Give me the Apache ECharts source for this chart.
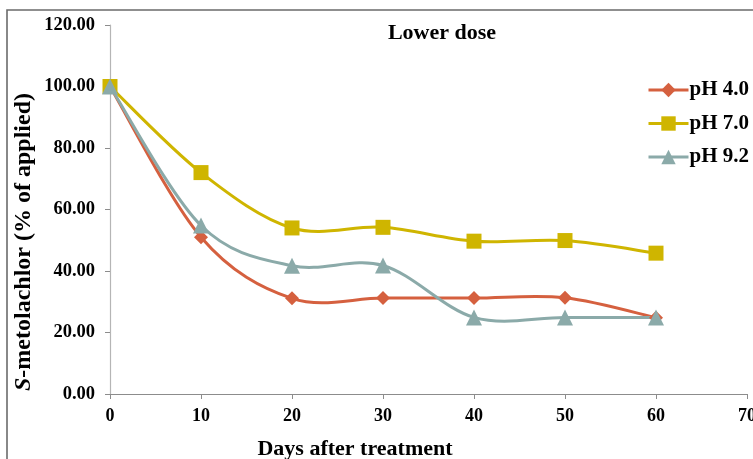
<!DOCTYPE html>
<html>
<head>
<meta charset="utf-8">
<script src="https://cdn.jsdelivr.net/npm/echarts@6/dist/echarts.min.js"></script>
<style>
  html, body { margin: 0; padding: 0; background: #fff; }
  #chart { width: 753px; height: 459px; }
</style>
</head>
<body>
<div id="chart"></div>
<script>
// Days after treatment
var days = [0, 10, 20, 30, 40, 50, 60];
// Residual S-metolachlor (% of applied) at each pH, lower dose
var ph40 = [100.0, 51.0, 31.1, 31.2, 31.2, 31.3, 24.8];
var ph70 = [100.0, 72.0, 54.0, 54.2, 49.7, 49.9, 45.8];
var ph92 = [100.0, 54.8, 41.7, 41.8, 24.9, 24.9, 24.9];
var seriesNames = ['pH 4.0', 'pH 7.0', 'pH 9.2'];
var colors = ['#D5603F', '#CFB500', '#8BAAA9'];

var serif = '"Liberation Serif", "Times New Roman", serif';

function pairs(vals) {
  return days.map(function (d, i) { return [d, vals[i]]; });
}

var chart = echarts.init(document.getElementById('chart'), null, { renderer: 'canvas' });

// Smooth connecting curve (Catmull-Rom as cubic Bezier), one segment per data item.
function curveSeries(vals, color) {
  var n = vals.length;
  return {
    type: 'custom',
    coordinateSystem: 'cartesian2d',
    data: pairs(vals),
    encode: { x: 0, y: 1 },
    silent: true,
    z: 2,
    renderItem: function (params, api) {
      var i = params.dataIndex;
      if (i >= n - 1) return null;
      function pt(k) {
        k = Math.max(0, Math.min(n - 1, k));
        return api.coord([days[k], vals[k]]);
      }
      var p0 = pt(i - 1), p1 = pt(i), p2 = pt(i + 1), p3 = pt(i + 2);
      return {
        type: 'bezierCurve',
        shape: {
          x1: p1[0], y1: p1[1],
          cpx1: p1[0] + (p2[0] - p0[0]) / 6,
          cpy1: p1[1] + (p2[1] - p0[1]) / 6,
          cpx2: p2[0] - (p3[0] - p1[0]) / 6,
          cpy2: p2[1] - (p3[1] - p1[1]) / 6,
          x2: p2[0], y2: p2[1]
        },
        style: { stroke: color, lineWidth: 3, fill: 'none', lineCap: 'round' }
      };
    }
  };
}

// Markers (and legend entries) for each series
function markerSeries(name, vals, color, symbol, size) {
  return {
    name: name,
    type: 'line',
    data: pairs(vals),
    symbol: symbol,
    symbolSize: size,
    lineStyle: { color: color, width: 3, opacity: 0 },
    itemStyle: { color: color },
    emphasis: { disabled: true },
    z: 3
  };
}

chart.setOption({
  animation: false,
  backgroundColor: '#fff',
  title: {
    text: 'Lower dose',
    left: 437,
    top: 17,
    textAlign: 'center',
    textStyle: { fontFamily: serif, fontWeight: 'bold', fontSize: 22, color: '#000' }
  },
  graphic: [{
    type: 'rect',
    shape: { x: 7, y: 10, width: 800, height: 500 },
    style: { fill: 'none', stroke: '#6b6b6b', lineWidth: 1.6 },
    silent: true,
    z: -1
  }, {
    // y-axis title with italic S
    type: 'text',
    x: 24,
    y: 242,
    rotation: Math.PI / 2,
    silent: true,
    style: {
      text: '{i|S}-metolachlor (% of applied)',
      align: 'center',
      verticalAlign: 'middle',
      font: 'bold 24px ' + serif,
      fill: '#000',
      rich: {
        i: { fontFamily: serif, fontWeight: 'bold', fontStyle: 'italic', fontSize: 24, fill: '#000' }
      }
    }
  }, {
    // x-axis title
    type: 'text',
    x: 355,
    y: 449,
    silent: true,
    style: {
      text: 'Days after treatment',
      align: 'center',
      verticalAlign: 'middle',
      font: 'bold 22px ' + serif,
      fill: '#000'
    }
  }],
  legend: {
    orient: 'vertical',
    left: 642,
    top: 74,
    itemWidth: 40,
    itemHeight: 18,
    itemGap: 11.5,
    data: seriesNames,
    lineStyle: { width: 3, opacity: 1 },
    textStyle: { fontFamily: serif, fontWeight: 'bold', fontSize: 21, lineHeight: 22, color: '#000', padding: [0, 0, 0, -4] }
  },
  grid: { left: 110, right: 6, top: 25, bottom: 65, containLabel: false, outerBoundsMode: 'none' },
  xAxis: {
    type: 'value',
    min: 0, max: 70, interval: 10,
    axisLine: { lineStyle: { color: '#8c8c8c', width: 1.2 } },
    axisTick: { show: true, length: 5, lineStyle: { color: '#8c8c8c' } },
    axisLabel: { fontFamily: serif, fontWeight: 'bold', fontSize: 18, color: '#000', margin: 13 },
    splitLine: { show: false }
  },
  yAxis: {
    type: 'value',
    min: 0, max: 120, interval: 20,
    axisLine: { show: true, lineStyle: { color: '#b5b5b5', width: 1.2 } },
    axisTick: { show: true, length: 5, lineStyle: { color: '#8c8c8c' } },
    axisLabel: {
      fontFamily: serif, fontWeight: 'bold', fontSize: 18.5, color: '#000', margin: 15,
      formatter: function (v) { return v.toFixed(2); }
    },
    splitLine: { show: false }
  },
  series: [
    curveSeries(ph40, colors[0]),
    curveSeries(ph70, colors[1]),
    curveSeries(ph92, colors[2]),
    markerSeries(seriesNames[0], ph40, colors[0], 'diamond', 14),
    markerSeries(seriesNames[1], ph70, colors[1], 'rect', 15),
    markerSeries(seriesNames[2], ph92, colors[2], 'triangle', 16)
  ]
});
</script>
</body>
</html>
